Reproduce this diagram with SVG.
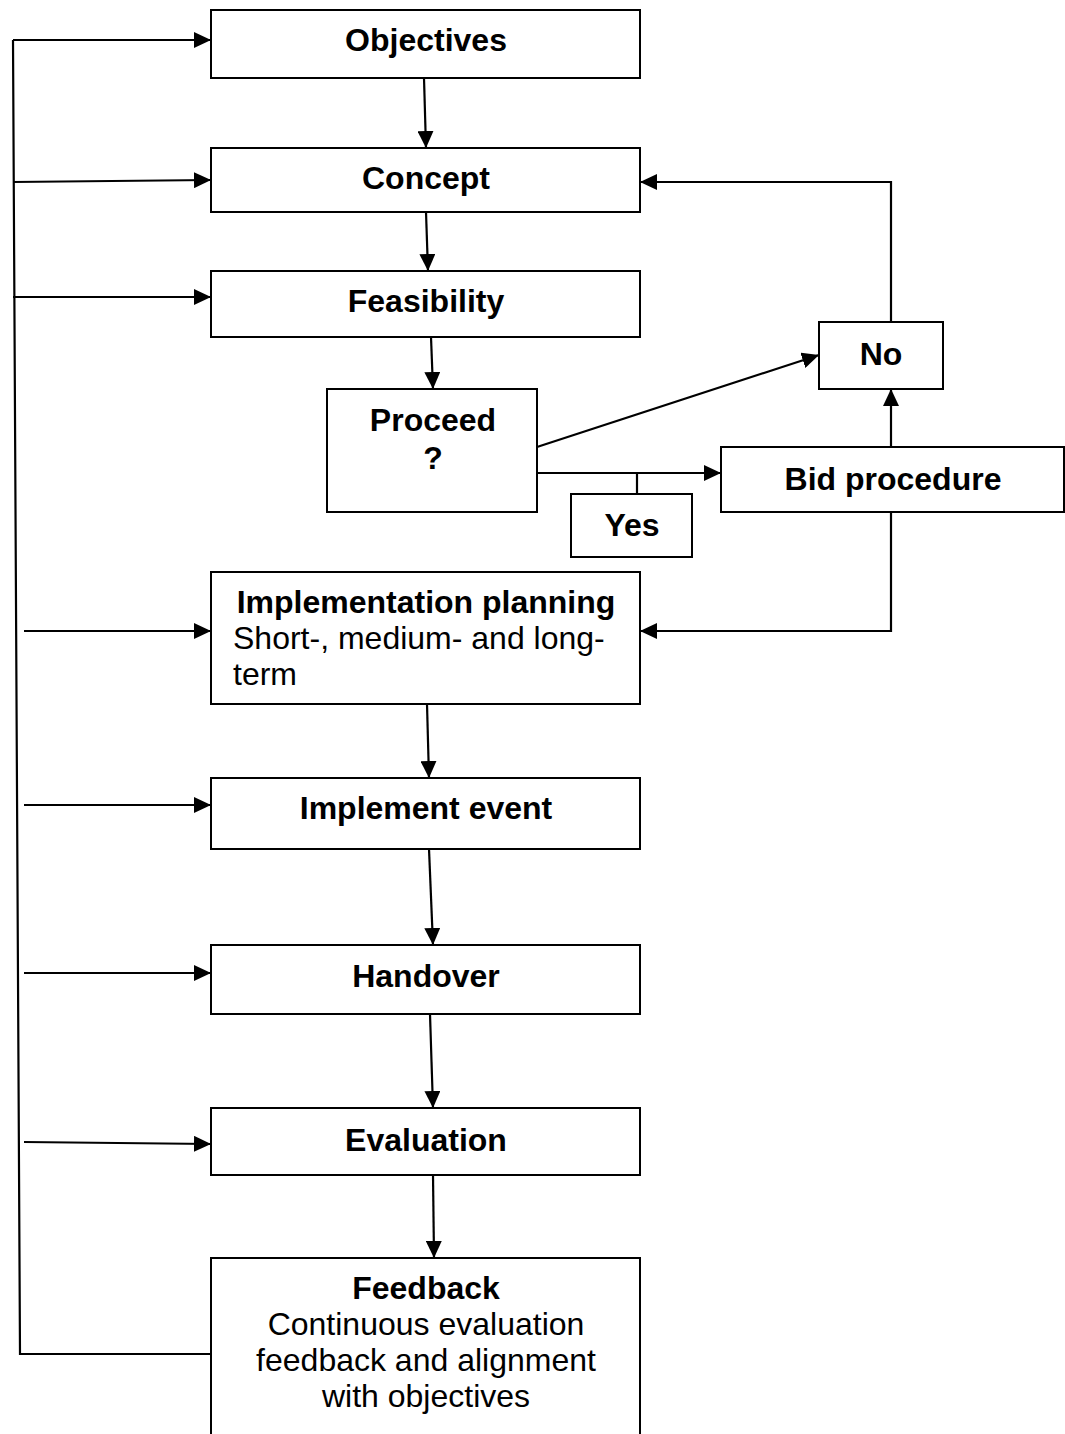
<svg xmlns="http://www.w3.org/2000/svg" width="1065" height="1434" viewBox="0 0 1065 1434">
<style>
.box{fill:#fff;stroke:#000;stroke-width:2}
.ln{fill:none;stroke:#000;stroke-width:2.2}
.b{font-family:"Liberation Sans",Arial,sans-serif;font-size:32px;font-weight:bold;text-anchor:middle;fill:#000}
.r{font-family:"Liberation Sans",Arial,sans-serif;font-size:32px;fill:#000}
.rc{font-family:"Liberation Sans",Arial,sans-serif;font-size:32px;text-anchor:middle;fill:#000}
</style>
<defs>
<marker id="ah" markerUnits="userSpaceOnUse" markerWidth="18" markerHeight="16" refX="17" refY="8" orient="auto">
<path d="M0,0 L17,8 L0,16 Z" fill="#000"/>
</marker>
</defs>
<g id="connectors">
<polyline class="ln" points="211,1354 20,1354 13,40"/>
<line class="ln" x1="13" y1="40" x2="211" y2="40" marker-end="url(#ah)"/>
<line class="ln" x1="13" y1="182" x2="211" y2="180" marker-end="url(#ah)"/>
<line class="ln" x1="13" y1="297" x2="211" y2="297" marker-end="url(#ah)"/>
<line class="ln" x1="24" y1="631" x2="211" y2="631" marker-end="url(#ah)"/>
<line class="ln" x1="24" y1="805" x2="211" y2="805" marker-end="url(#ah)"/>
<line class="ln" x1="24" y1="973" x2="211" y2="973" marker-end="url(#ah)"/>
<line class="ln" x1="24" y1="1142" x2="211" y2="1144" marker-end="url(#ah)"/>
<line class="ln" x1="424" y1="78" x2="426" y2="148" marker-end="url(#ah)"/>
<line class="ln" x1="426" y1="212" x2="428" y2="271" marker-end="url(#ah)"/>
<line class="ln" x1="431" y1="337" x2="433" y2="389" marker-end="url(#ah)"/>
<line class="ln" x1="427" y1="704" x2="429" y2="778" marker-end="url(#ah)"/>
<line class="ln" x1="429" y1="849" x2="433" y2="945" marker-end="url(#ah)"/>
<line class="ln" x1="430" y1="1014" x2="433" y2="1108" marker-end="url(#ah)"/>
<line class="ln" x1="433" y1="1175" x2="434" y2="1258" marker-end="url(#ah)"/>
<line class="ln" x1="537" y1="447" x2="819" y2="355" marker-end="url(#ah)"/>
<line class="ln" x1="537" y1="473" x2="721" y2="473" marker-end="url(#ah)"/>
<line class="ln" x1="637" y1="473" x2="637" y2="494"/>
<line class="ln" x1="891" y1="447" x2="891" y2="389" marker-end="url(#ah)"/>
<polyline class="ln" points="891,322 891,182 640,182" marker-end="url(#ah)"/>
<polyline class="ln" points="891,512 891,631 640,631" marker-end="url(#ah)"/>
</g>
<g id="objectives"><rect class="box" x="211" y="10" width="429" height="68"/><text class="b" x="426" y="51">Objectives</text></g>
<g id="concept"><rect class="box" x="211" y="148" width="429" height="64"/><text class="b" x="426" y="189">Concept</text></g>
<g id="feasibility"><rect class="box" x="211" y="271" width="429" height="66"/><text class="b" x="426" y="312">Feasibility</text></g>
<g id="proceed"><rect class="box" x="327" y="389" width="210" height="123"/><text class="b" x="433" y="431">Proceed</text><text class="b" x="433" y="469">?</text></g>
<g id="no"><rect class="box" x="819" y="322" width="124" height="67"/><text class="b" x="881" y="365">No</text></g>
<g id="bid"><rect class="box" x="721" y="447" width="343" height="65"/><text class="b" x="893" y="490">Bid procedure</text></g>
<g id="yes"><rect class="box" x="571" y="494" width="121" height="63"/><text class="b" x="632" y="536">Yes</text></g>
<g id="impl-planning"><rect class="box" x="211" y="572" width="429" height="132"/><text class="b" x="426" y="613">Implementation planning</text><text class="r" x="233" y="649">Short-, medium- and long-</text><text class="r" x="233" y="685">term</text></g>
<g id="implement-event"><rect class="box" x="211" y="778" width="429" height="71"/><text class="b" x="426" y="819">Implement event</text></g>
<g id="handover"><rect class="box" x="211" y="945" width="429" height="69"/><text class="b" x="426" y="987">Handover</text></g>
<g id="evaluation"><rect class="box" x="211" y="1108" width="429" height="67"/><text class="b" x="426" y="1151">Evaluation</text></g>
<g id="feedback"><rect class="box" x="211" y="1258" width="429" height="200"/><text class="b" x="426" y="1299">Feedback</text><text class="rc" x="426" y="1335">Continuous evaluation</text><text class="rc" x="426" y="1371">feedback and alignment</text><text class="rc" x="426" y="1407">with objectives</text></g>
</svg>
